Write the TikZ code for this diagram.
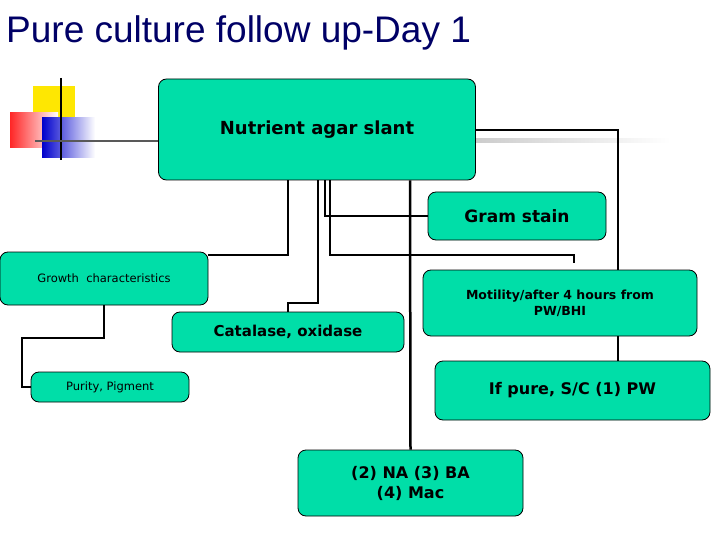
\documentclass[tikz,border=0pt]{standalone}
\usepackage{fontspec}
\setmainfont{DejaVu Sans}
\newfontfamily\titlefont{Liberation Sans}
\begin{document}
\begin{tikzpicture}[x=1pt,y=-1pt,
  bx/.style={draw=black,fill=boxg,rounded corners=8pt,line width=0.8pt,inner sep=0pt,font=\bfseries,align=center},
  ln/.style={line width=2.5pt}]
\definecolor{boxg}{HTML}{00DEA8}
\useasboundingbox (0,0) rectangle (720,540);
% decoration
\fill[yellow!90!orange] (33,86) rectangle (75,125);
\shade[left color=red!85, right color=white] (10,113) rectangle (58,148);
\shade[left color=blue!80!black, right color=white] (42,118) rectangle (95,158);
\draw[line width=1.5pt] (61,78) -- (61,160);
\draw[line width=1.5pt, gray!70!black] (35,141) -- (160,141);
\shade[left color=gray!40, right color=white] (476,139) rectangle (670,143);
% title
\node[anchor=west,font=\titlefont\fontsize{37}{40}\selectfont,text=blue!40!black,inner sep=0pt] (title) at (6,33) {Pure culture follow up-Day 1};
% boxes
\node[bx,minimum width=317pt,minimum height=101pt,font=\bfseries\fontsize{18}{20}\selectfont] (na) at (317,129.5) {Nutrient agar slant};
\node[bx,minimum width=178pt,minimum height=48pt,font=\bfseries\fontsize{17}{20}\selectfont] (gram) at (517,216) {Gram stain};
\node[bx,minimum width=208pt,minimum height=53pt,font=\fontsize{11.5}{14}\selectfont] (growth) at (104,278.5) {Growth\ \ characteristics};
\node[bx,minimum width=232pt,minimum height=40pt,font=\bfseries\fontsize{15}{18}\selectfont] (cat) at (288,332) {Catalase, oxidase};
\node[bx,minimum width=274pt,minimum height=66pt,font=\bfseries\fontsize{12.5}{16}\selectfont] (mot) at (560,303) {Motility/after 4 hours from\\PW/BHI};
\node[bx,minimum width=158pt,minimum height=30pt,font=\fontsize{11.5}{14}\selectfont] (pur) at (110,387) {Purity, Pigment};
\node[bx,minimum width=275pt,minimum height=59pt,font=\bfseries\fontsize{16}{19}\selectfont] (pure) at (572.5,390.5) {If pure, S/C (1) PW};
\node[bx,minimum width=225pt,minimum height=66pt,font=\bfseries\fontsize{16}{20}\selectfont] (nab) at (410.5,483) {(2) NA (3) BA\\(4) Mac};
% connectors
\coordinate (e1) at (574,263);
\draw[ln] (na.south -| 288,0) |- (growth.east |- 0,255);
\draw[ln] (na.south -| 318,0) -- (318,303) -- (288,303) -- (cat.north -| 288,0);
\draw[ln] (na.south -| 325,0) |- (gram.west |- 0,216);
\draw[ln] (na.south -| 330,0) |- (574,255) -- (e1);
\draw[ln] (na.south -| 410,0) -- (nab.north);
\draw[ln] (na.east |- 0,130) -| (mot.north -| 618,0);
\draw[ln] (mot.south -| 618,0) -- (pure.north -| 618,0);
\draw[ln] (growth.south) -- (104,338) -- (22,338) |- (pur.west);
\end{tikzpicture}
\end{document}
